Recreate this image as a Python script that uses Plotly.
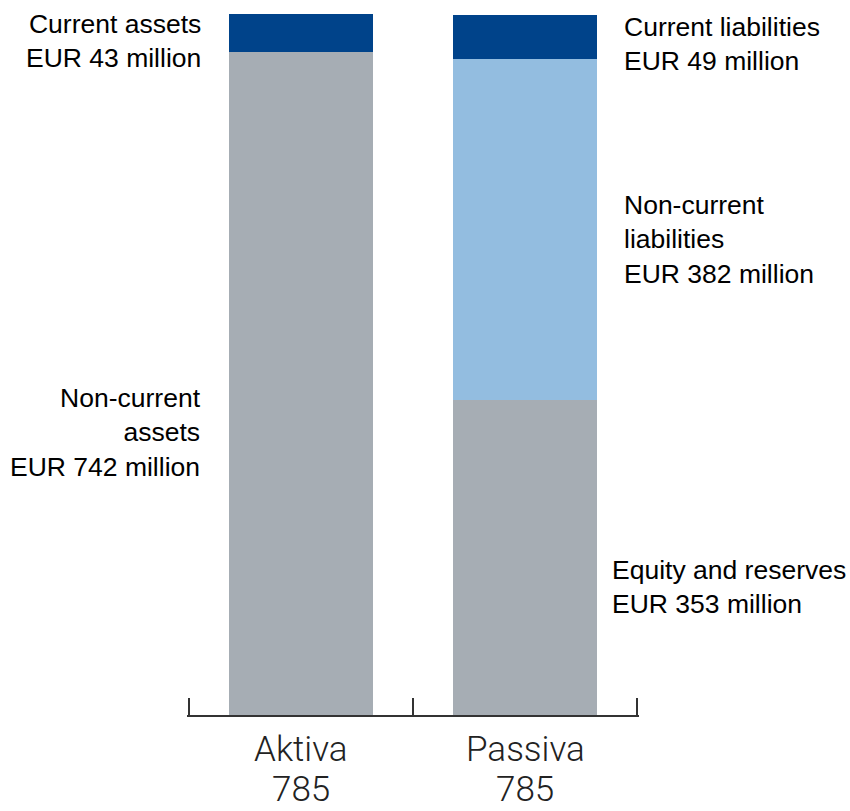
import plotly.graph_objects as go

# balance sheet, EUR million
categories = ["Aktiva", "Passiva"]
totals = [785, 785]
lower_values = [742, 353]   # non-current assets / equity and reserves
middle_values = [0, 382]    # - / non-current liabilities
upper_values = [43, 49]     # current assets / current liabilities

DARK_BLUE = "#00438A"
LIGHT_BLUE = "#93BDE0"
GREY = "#A6ADB4"

# bars sit on a linear axis at the category index, so ticks can go on the boundaries
positions = list(range(len(categories)))
boundaries = [i - 0.5 for i in range(len(categories) + 1)]

fig = go.Figure()
for vals, color in [(lower_values, GREY), (middle_values, LIGHT_BLUE), (upper_values, DARK_BLUE)]:
    fig.add_trace(go.Bar(
        x=positions, y=vals, marker_color=color, marker_line_width=0,
        width=0.64, hoverinfo="skip",
    ))

label_font = dict(family="Liberation Sans", size=26.5, color="black")
labels = [
    # text, paper x, anchor, y (data), align
    ("Current assets<br>EUR 43 million", 0.035, "right", 755, "right"),
    ("Non-current<br>assets<br>EUR 742 million", 0.035, "right", 316, "right"),
    ("Current liabilities<br>EUR 49 million", 0.962, "left", 751, "left"),
    ("Non-current<br>liabilities<br>EUR 382 million", 0.962, "left", 532, "left"),
    ("Equity and reserves<br>EUR 353 million", 0.935, "left", 143, "left"),
]
for text, x, anchor, y, align in labels:
    fig.add_annotation(
        text=text, x=x, xref="paper", y=y, yref="y", xanchor=anchor,
        yanchor="middle", align=align, showarrow=False, font=label_font,
    )

# category names and totals under the axis, one annotation per line
cat_font = dict(family="Roboto", size=35, color="#222", weight=300)
for pos, cat, total in zip(positions, categories, totals):
    for text, shift in [(cat, -34), (str(total), -74)]:
        fig.add_annotation(
            text=text, x=pos, xref="x", y=0, yref="paper", yanchor="middle",
            yshift=shift, showarrow=False, font=cat_font,
        )

fig.update_layout(
    width=850, height=811,
    barmode="stack", bargap=0,
    showlegend=False,
    plot_bgcolor="white", paper_bgcolor="white",
    margin=dict(l=187, r=211, t=14, b=96),
)
fig.update_xaxes(
    range=[boundaries[0] - 0.008, boundaries[-1] + 0.008],
    tickvals=boundaries, showticklabels=False,
    ticks="inside", ticklen=17, tickwidth=2, tickcolor="#333",
    showline=True, linecolor="#333", linewidth=2, layer="below traces",
    showgrid=False, zeroline=False, automargin=False,
)
fig.update_yaxes(range=[0, 785], visible=False, showgrid=False)

# drop the default 8px body margin so the figure fills the window
fig.write_html(
    "out.html",
    config={"displayModeBar": False},
    post_script="document.body.style.margin='0';",
)
